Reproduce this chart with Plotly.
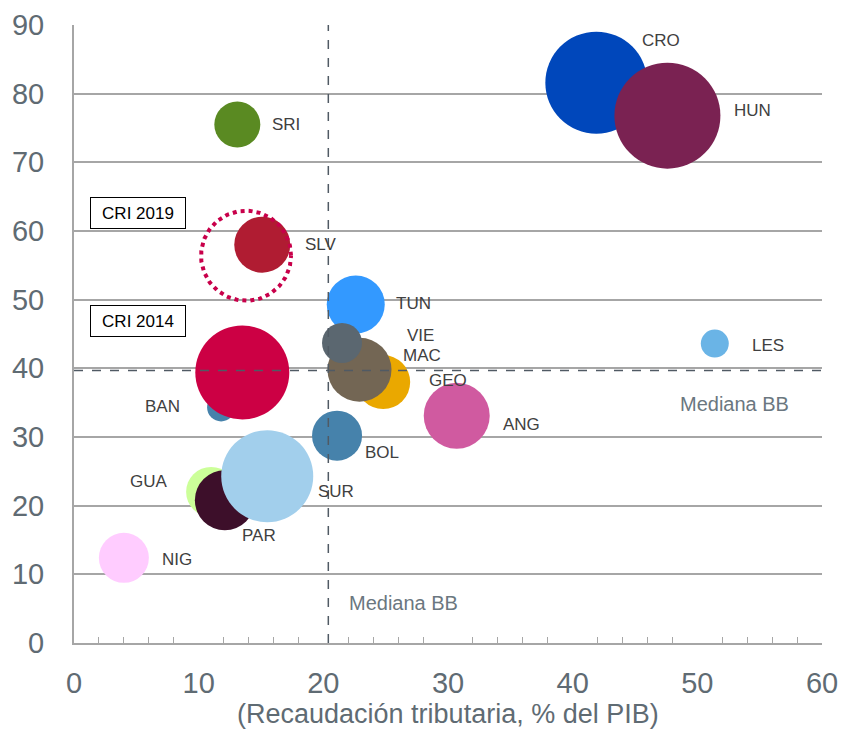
import plotly.graph_objects as go
import numpy as np

# Data
paises = ["CRO", "HUN", "SRI", "SLV", "TUN", "GEO", "MAC", "VIE", "ANG", "BOL", "LES",
          "BAN", "CRI 2014", "GUA", "PAR", "SUR", "NIG"]
recaudacion = [41.9, 47.6, 13.1, 15.1, 22.6, 24.8, 22.9, 21.5, 30.7, 21.1, 51.4,
               11.8, 13.5, 11.0, 12.1, 15.5, 4.0]
indicador = [81.6, 76.8, 75.5, 58.0, 49.3, 38.0, 39.8, 43.7, 33.1, 30.2, 43.6,
             34.3, 39.4, 22.0, 20.8, 24.3, 12.4]
peso = [102, 106, 46, 56, 58, 54, 64, 40, 66, 50, 28,
        28, 94, 50, 60, 92, 50]
colores = ["#0047bb", "#7a2252", "#5a8a22", "#b01c32", "#3399ff", "#eaa800", "#736654",
           "#5b6770", "#d05aa0", "#4682ab", "#6ab4e6", "#4682ab", "#cc0044",
           "#ccff99", "#3d0f2a", "#a2cfec", "#ffccff"]

etiquetas = ["CRO", "HUN", "SRI", "SLV", "TUN", "VIE", "MAC", "GEO", "ANG", "BOL", "LES",
             "BAN", "GUA", "SUR", "PAR", "NIG"]
etiqueta_x = [47.1, 54.4, 17.0, 19.8, 27.2, 27.8, 27.9, 30.0, 35.9, 24.7, 55.7,
              7.1, 6.0, 21.0, 14.8, 8.3]
etiqueta_y = [87.7, 77.6, 75.5, 58.0, 49.4, 44.8, 41.8, 38.3, 31.8, 27.7, 43.3,
              34.5, 23.5, 22.0, 15.7, 12.2]

cri2019 = {"x": 13.8, "y": 56.4, "peso": 90}
mediana_x = 20.4
mediana_y = 39.7

titulo_x = "(Recaudación tributaria, % del PIB)"

FONT = "Liberation Sans, Arial"

fig = go.Figure()

fig.add_trace(go.Scatter(
    x=recaudacion, y=indicador, mode="markers",
    marker=dict(size=peso, sizemode="diameter", sizeref=1, color=colores,
                opacity=1, line=dict(width=0)),
    hoverinfo="text", text=paises, showlegend=False,
))

# dotted circle for CRI 2019 (size converted from pixel diameter to axis units)
x_px_per_unit = (822 - 74) / 60
y_px_per_unit = (643 - 25) / 90
rx = cri2019["peso"] / 2 / x_px_per_unit
ry = cri2019["peso"] / 2 / y_px_per_unit
t = np.linspace(0, 2 * np.pi, 200)
fig.add_trace(go.Scatter(
    x=cri2019["x"] + rx * np.cos(t), y=cri2019["y"] + ry * np.sin(t),
    mode="lines", line=dict(color="#c8004a", width=4, dash="dot"),
    hoverinfo="skip", showlegend=False,
))

fig.add_vline(x=mediana_x, line=dict(color="#505a64", width=1.5, dash="dash"))
fig.add_hline(y=mediana_y, line=dict(color="#505a64", width=1.5, dash="dash"))

for lab, lx, ly in zip(etiquetas, etiqueta_x, etiqueta_y):
    fig.add_annotation(x=lx, y=ly, text=lab, showarrow=False,
                       font=dict(family=FONT, size=17, color="#404040"))

fig.add_annotation(x=26.4, y=5.8, text="Mediana BB", showarrow=False,
                   font=dict(family=FONT, size=20, color="#6b7780"))
fig.add_annotation(x=53.0, y=34.8, text="Mediana BB", showarrow=False,
                   font=dict(family=FONT, size=20, color="#6b7780"))

for txt, yy in [("CRI 2019", 62.6), ("CRI 2014", 46.9)]:
    fig.add_annotation(x=5.15, y=yy, text=txt, showarrow=False,
                       font=dict(family=FONT, size=17, color="#000000"),
                       bordercolor="#000000", borderwidth=1, borderpad=1, bgcolor="white",
                       width=92, height=28)

fig.add_annotation(x=0.5, xref="paper", y=0, yref="paper", yshift=-71,
                   yanchor="middle", xanchor="center", showarrow=False,
                   text=titulo_x, font=dict(family=FONT, size=27, color="#5f6b73"))

fig.update_layout(
    width=842, height=729,
    margin=dict(l=74, r=20, t=25, b=86),
    paper_bgcolor="white", plot_bgcolor="white",
    xaxis=dict(range=[0, 60], dtick=10, tick0=0, showgrid=False, zeroline=False,
               showline=True, linecolor="#a6a6a6", linewidth=2, automargin=False,
               ticks="inside", ticklen=0, tickcolor="#a6a6a6", tickwidth=1,
               minor=dict(dtick=2, ticks="inside", ticklen=6, tickcolor="#a6a6a6", tickwidth=1),
               tickfont=dict(family=FONT, size=29, color="#5f6b73"),
               ticklabelstandoff=13),
    yaxis=dict(range=[0, 90], dtick=10, tick0=0, showgrid=True, gridcolor="#a6a6a6", gridwidth=2,
               zeroline=False, showline=True, linecolor="#a6a6a6", linewidth=2, ticks="",
               automargin=False,
               tickfont=dict(family=FONT, size=29, color="#5f6b73"),
               ticklabelstandoff=22),
)

fig.write_html("out.html")
